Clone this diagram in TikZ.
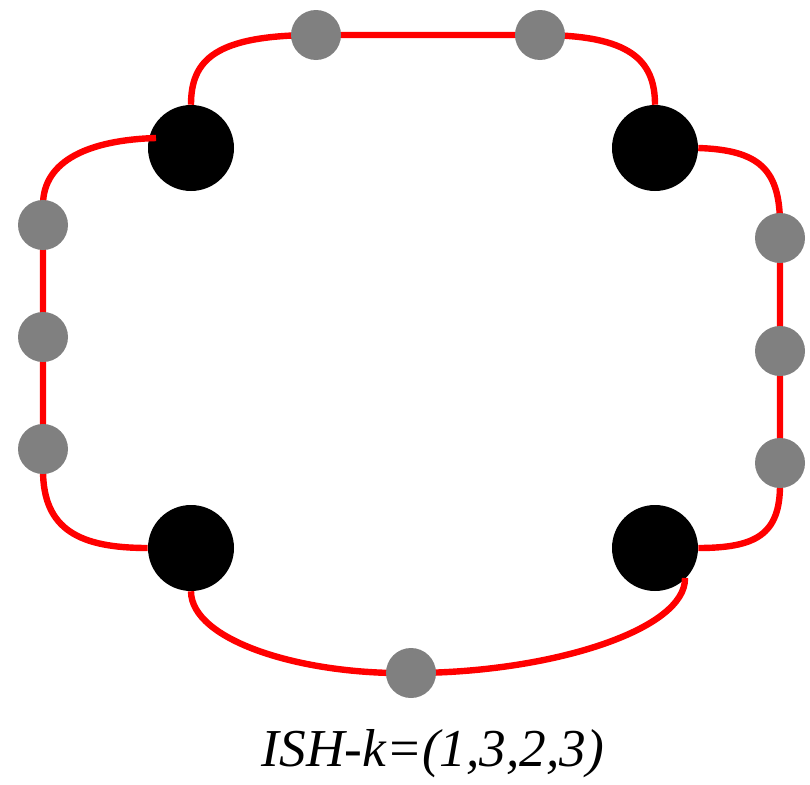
\documentclass[tikz,border=0pt]{standalone}
\usepackage{fontspec}
\setmainfont{Liberation Serif}
\begin{document}
\begin{tikzpicture}[x=0.75pt,y=-0.75pt,
  big/.style={circle,fill=black,inner sep=0pt,minimum size=64.5pt},
  small/.style={circle,fill=gray,inner sep=0pt,minimum size=37.5pt},
  edge/.style={red,line width=4.8pt}]
\useasboundingbox (0,0) rectangle (810,785);
% black nodes
\node[big] (b1) at (191,148) {};
\node[big] (b2) at (655,148) {};
\node[big] (b3) at (191,548) {};
\node[big] (b4) at (655,548) {};
% gray node positions
\coordinate (t1) at (316,35);
\coordinate (t2) at (540,35);
\coordinate (l1) at (43,225);
\coordinate (l2) at (43,337);
\coordinate (l3) at (43,449);
\coordinate (r1) at (780,238);
\coordinate (r2) at (780,351);
\coordinate (r3) at (780,463);
\coordinate (m1) at (411,673);
\coordinate (sL) at (156,138);
\coordinate (sR) at (685,578);
% red connectors
\draw[edge] (b1.north) .. controls (191,60) and (215,35) .. (t1) -- (t2)
  .. controls (630,35) and (655,60) .. (b2.north);
\draw[edge] (sL) .. controls (90,140) and (43,160) .. (43,205) -- (l1) -- (l2) -- (l3)
  -- (43,470) .. controls (43,530) and (80,548) .. (b3.west);
\draw[edge] (b2.east) .. controls (760,150) and (780,170) .. (780,225) -- (r1) -- (r2) -- (r3)
  -- (780,485) .. controls (780,535) and (755,548) .. (b4.east);
\draw[edge] (b3.south) .. controls (191,640) and (300,675) .. (m1)
  .. controls (550,673) and (686,630) .. (sR);
% gray nodes
\foreach \n in {t1,t2,l1,l2,l3,r1,r2,r3,m1}
  \node[small] (g\n) at (\n) {};
\node[font=\fontsize{40}{46}\selectfont\itshape, anchor=base] (lab) at (433,766) {ISH-k=(1,3,2,3)};
\end{tikzpicture}
\end{document}
